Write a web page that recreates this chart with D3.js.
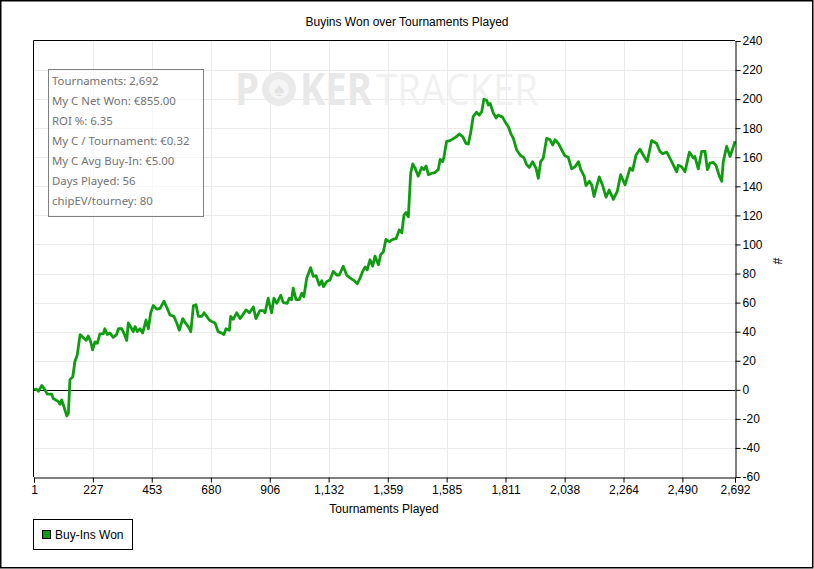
<!doctype html>
<html>
<head>
  <meta charset="utf-8">
  <script src="https://d3js.org/d3.v7.min.js"></script>
  <style>
    body { margin: 0; background: #fff; }
    text { font-family: "Liberation Sans", Arial, sans-serif; }
  </style>
</head>
<body>
  <script>
    // data
    var tournaments = [1, 9, 18, 31, 43, 52, 69, 75, 94, 101, 107, 113, 127, 133, 139, 150, 158, 167, 178, 190,
      201, 209, 219, 226, 235, 244, 254, 267, 273, 282, 293, 305, 318, 325, 338, 347, 357, 363, 376, 382,
      389, 398, 408, 418, 431, 440, 449, 459, 472, 485, 500, 510, 523, 538, 549, 559, 572, 582, 593, 603,
      613, 623, 632, 645, 654, 664, 674, 683, 696, 708, 722, 730, 738, 751, 756, 766, 779, 792, 802, 815,
      828, 843, 853, 868, 881, 888, 900, 913, 922, 933, 948, 958, 973, 981, 990, 996, 1007, 1019, 1029, 1037,
      1048, 1063, 1073, 1084, 1096, 1106, 1112, 1125, 1137, 1150, 1163, 1173, 1188, 1201, 1214, 1227, 1242, 1253, 1263, 1272,
      1280, 1291, 1301, 1310, 1323, 1332, 1342, 1352, 1365, 1378, 1391, 1403, 1413, 1421, 1429, 1438, 1447, 1455, 1464, 1476,
      1489, 1498, 1506, 1515, 1528, 1540, 1553, 1560, 1570, 1575, 1585, 1598, 1608, 1621, 1634, 1647, 1659, 1668, 1677, 1687,
      1700, 1710, 1720, 1728, 1739, 1745, 1752, 1764, 1775, 1783, 1800, 1809, 1822, 1831, 1841, 1854, 1867, 1882, 1892, 1902,
      1915, 1928, 1937, 1946, 1956, 1969, 1982, 1992, 2001, 2014, 2027, 2039, 2052, 2065, 2078, 2091, 2100, 2113, 2120, 2133,
      2142, 2151, 2158, 2171, 2184, 2197, 2209, 2225, 2240, 2253, 2270, 2289, 2299, 2312, 2327, 2343, 2355, 2372, 2391, 2404,
      2414, 2430, 2449, 2468, 2474, 2487, 2500, 2517, 2532, 2538, 2551, 2564, 2577, 2586, 2596, 2609, 2619, 2632, 2641, 2647,
      2660, 2673, 2686, 2692];
    var buyinsWon = [0, 0.5, -1, 3, 0, -3, -3, -6, -8, -10, -7, -10, -18, -16, 7, 9, 19.5, 24, 38, 36,
      34, 37, 33, 27.5, 33, 32, 38.5, 38.5, 42, 38, 39, 36, 38, 42, 42, 38.5, 34, 46, 42, 40,
      43.5, 40, 42, 39, 48, 42, 53, 58, 55.5, 56, 61, 57, 51.5, 50.5, 46, 41, 49, 46, 43.5, 40,
      58, 58.5, 50.5, 50.5, 53, 50.5, 48, 47, 46, 40, 39, 38, 42, 41, 50.5, 48.5, 53, 49, 51.5, 55,
      53, 57, 49, 54.5, 54.5, 53, 63, 53, 63, 59.5, 65, 60, 59.5, 63, 62, 70, 62, 62, 66.5, 64,
      77, 84, 78, 78.5, 72, 75, 71, 74.5, 75.5, 81.5, 79, 79, 85, 79, 77, 75.5, 73, 77, 81.5, 84.5,
      82.5, 89.5, 85, 92, 86, 93, 95, 103.5, 102, 103.5, 104, 110, 108, 120, 122, 119, 149, 155.5, 152.5, 147,
      153, 151.5, 154, 148, 149, 149.5, 151.5, 158.5, 157, 160.5, 171, 171.5, 172.5, 174, 176, 174, 169.5, 169, 176.5, 188,
      191, 189, 191.5, 200, 199, 196, 197, 190.5, 187, 189, 187.5, 184.5, 181, 176.5, 173, 165, 161.5, 159.5, 155, 153,
      157, 152.5, 145.5, 157, 159.5, 173, 172, 168.5, 172, 169.5, 165, 161, 160, 152, 153.5, 157, 151.5, 147, 140.5, 143.5,
      141, 133, 138, 146.5, 140.5, 132.5, 137.5, 131, 136.5, 148, 141, 152.5, 151, 161.5, 165.5, 160.5, 157, 171.5, 169.5, 164,
      162.5, 163.5, 157, 150, 154.5, 153.5, 150, 163.5, 159.5, 160.5, 152, 164, 164, 151.5, 156, 156.5, 154.5, 147, 143.5, 157,
      167.5, 160.5, 167.5, 171];

    var xTicks = [1, 227, 453, 680, 906, 1132, 1359, 1585, 1811, 2038, 2264, 2490, 2692];
    var yTicks = [-60, -40, -20, 0, 20, 40, 60, 80, 100, 120, 140, 160, 180, 200, 220, 240];

    var statLines = ["Tournaments: 2,692", "My C Net Won: \u20ac855.00", "ROI %: 6.35",
      "My C / Tournament: \u20ac0.32", "My C Avg Buy-In: \u20ac5.00", "Days Played: 56", "chipEV/tourney: 80"];

    var width = 814, height = 569;
    var plotLeft = 34, plotRight = 735, plotTop = 41, plotBottom = 477;
    var green = "#109c10";

    var svg = d3.select("body").append("svg")
      .attr("width", width)
      .attr("height", height);

    // outer frame
    svg.append("rect")
      .attr("x", 0.75).attr("y", 0.75)
      .attr("width", width - 2).attr("height", height - 2)
      .attr("fill", "#fff").attr("stroke", "#000").attr("stroke-width", 1.5);

    var x = d3.scaleLinear().domain([1, 2692]).range([plotLeft, plotRight]);
    var y = d3.scaleLinear().domain([-60, 240]).range([plotBottom, plotTop]);

    // grid
    svg.append("g").selectAll("line")
      .data(xTicks.slice(1, -1))
      .enter().append("line")
      .attr("x1", function(d) { return Math.round(x(d)) + 0.5; })
      .attr("x2", function(d) { return Math.round(x(d)) + 0.5; })
      .attr("y1", plotTop).attr("y2", plotBottom)
      .attr("stroke", "#ebebeb");
    svg.append("g").selectAll("line")
      .data(yTicks.slice(1, -1))
      .enter().append("line")
      .attr("x1", plotLeft).attr("x2", plotRight)
      .attr("y1", function(d) { return Math.round(y(d)) + 0.5; })
      .attr("y2", function(d) { return Math.round(y(d)) + 0.5; })
      .attr("stroke", "#ebebeb");

    // watermark
    var wm = svg.append("g");
    wm.append("text").attr("x", 235).attr("y", 105)
      .attr("font-size", 44).attr("font-weight", "bold")
      .attr("textLength", 24).attr("lengthAdjust", "spacingAndGlyphs")
      .attr("fill", "#e8e8e8").style("font-family", "Open Sans, sans-serif").text("P");
    wm.append("circle").attr("cx", 279).attr("cy", 89).attr("r", 17).attr("fill", "#eaeaea");
    wm.append("circle").attr("cx", 279).attr("cy", 89).attr("r", 10).attr("fill", "#f5f5f5");
    wm.append("text").attr("x", 279).attr("y", 96).attr("text-anchor", "middle")
      .attr("font-size", 19).attr("fill", "#e2e2e2").text("\u2660");
    wm.append("text").attr("x", 300).attr("y", 105)
      .attr("font-size", 44).attr("font-weight", "bold")
      .attr("textLength", 72).attr("lengthAdjust", "spacingAndGlyphs")
      .attr("fill", "#e8e8e8").style("font-family", "Open Sans, sans-serif").text("KER");
    wm.append("text").attr("x", 376).attr("y", 105)
      .attr("font-size", 44)
      .attr("textLength", 162).attr("lengthAdjust", "spacingAndGlyphs")
      .attr("fill", "#f1f1f1").style("font-family", "Open Sans, sans-serif").text("TRACKER");

    // zero line
    svg.append("line")
      .attr("x1", plotLeft).attr("x2", plotRight)
      .attr("y1", Math.round(y(0)) + 0.5).attr("y2", Math.round(y(0)) + 0.5)
      .attr("stroke", "#000");

    // series
    var points = tournaments.map(function(t, i) { return [t, buyinsWon[i]]; });
    svg.append("path")
      .datum(points)
      .attr("fill", "none")
      .attr("stroke", green)
      .attr("stroke-width", 2.8)
      .attr("stroke-linejoin", "round")
      .attr("d", d3.line()
        .x(function(d) { return x(d[0]); })
        .y(function(d) { return y(d[1]); }));

    // plot box top / left
    svg.append("path")
      .attr("d", "M" + (plotLeft - 0.5) + "," + plotBottom + "V" + (plotTop - 0.5) + "H" + plotRight)
      .attr("fill", "none").attr("stroke", "#000");

    // axes
    var xAxis = d3.axisBottom(x).tickValues(xTicks).tickSize(5).tickPadding(3)
      .tickFormat(d3.format(","));
    var gx = svg.append("g").attr("transform", "translate(0," + (plotBottom + 0.5) + ")").call(xAxis);
    var yAxis = d3.axisRight(y).tickValues(yTicks).tickSize(5).tickPadding(2)
      .tickFormat(function(d) { return String(d); });
    var gy = svg.append("g").attr("transform", "translate(" + (plotRight + 0.5) + ",0)").call(yAxis);
    [gx, gy].forEach(function(g) {
      g.select(".domain").attr("stroke", "#000");
      g.selectAll(".tick line").attr("stroke", "#000");
      g.selectAll(".tick text").attr("fill", "#000").attr("font-size", 12)
        .style("font-family", "Liberation Sans, Arial, sans-serif");
    });

    // titles
    svg.append("text").attr("x", 407).attr("y", 26).attr("text-anchor", "middle")
      .attr("font-size", 12).text("Buyins Won over Tournaments Played");
    svg.append("text").attr("x", 384).attr("y", 513).attr("text-anchor", "middle")
      .attr("font-size", 12).text("Tournaments Played");
    svg.append("text").attr("transform", "translate(773,261) rotate(90)").attr("text-anchor", "middle")
      .attr("font-size", 12).text("#");

    // stats box
    svg.append("rect").attr("x", 48.5).attr("y", 69.5).attr("width", 155).attr("height", 147)
      .attr("fill", "#fff").attr("fill-opacity", 0.6).attr("stroke", "#808080");
    svg.append("g").selectAll("text")
      .data(statLines)
      .enter().append("text")
      .attr("x", 52)
      .attr("y", function(d, i) { return 85 + i * 20; })
      .attr("font-size", 11.4)
      .attr("fill", "#737373")
      .style("font-family", "Noto Sans, sans-serif")
      .text(function(d) { return d; });

    // legend
    svg.append("rect").attr("x", 33.5).attr("y", 519.5).attr("width", 99).attr("height", 30)
      .attr("fill", "#fff").attr("stroke", "#000");
    svg.append("rect").attr("x", 42.5).attr("y", 530.5).attr("width", 8).attr("height", 8)
      .attr("fill", green).attr("stroke", "#000");
    svg.append("text").attr("x", 55).attr("y", 539).attr("font-size", 12).text("Buy-Ins Won");
  </script>
</body>
</html>
